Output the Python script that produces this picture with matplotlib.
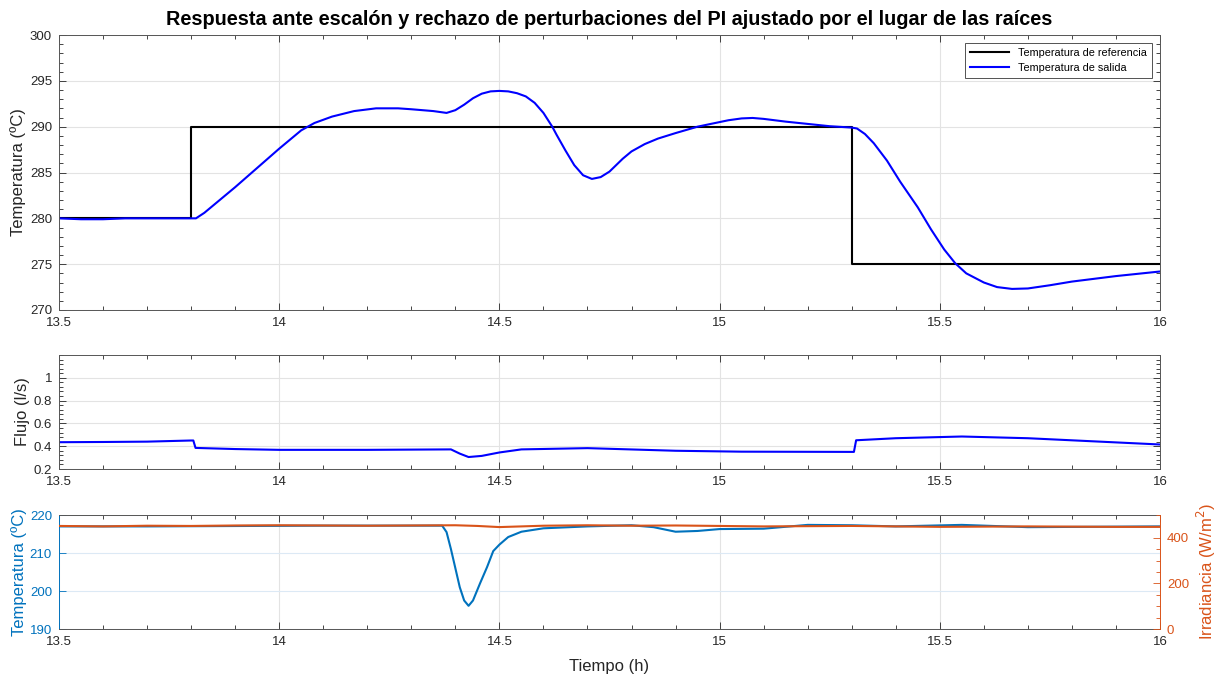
import matplotlib
matplotlib.use('Agg')
import matplotlib.pyplot as plt
from matplotlib.ticker import MultipleLocator

plt.rcParams['font.family'] = ['Liberation Sans', 'DejaVu Sans']

# Temperatura de referencia (escalones)
t_ref = [13.5, 13.8, 15.3, 16.0]
T_ref = [280, 290, 275, 275]

# Temperatura de salida
t_out = [13.5, 13.55, 13.6, 13.65, 13.7, 13.75, 13.8, 13.811, 13.83, 13.85, 13.9, 13.95,
         14.0, 14.03, 14.05, 14.08, 14.12, 14.17, 14.22, 14.27, 14.3, 14.35, 14.38, 14.4,
         14.42, 14.44, 14.46, 14.48, 14.5, 14.52, 14.54, 14.56, 14.58, 14.6, 14.62, 14.63,
         14.65, 14.67, 14.69, 14.71, 14.73, 14.75, 14.78, 14.8, 14.83, 14.86, 14.9, 14.95,
         15.0, 15.02, 15.05, 15.075, 15.1, 15.15, 15.2, 15.25, 15.3, 15.312, 15.33, 15.35,
         15.38, 15.41, 15.45, 15.48, 15.51, 15.535, 15.56, 15.6, 15.63, 15.664, 15.7, 15.75,
         15.8, 15.85, 15.9, 15.95, 16.0]
T_out = [280, 279.9, 279.9, 280, 280, 280, 280, 280, 280.6, 281.4, 283.4, 285.5,
         287.6, 288.8, 289.6, 290.4, 291.1, 291.7, 292.0, 292.0, 291.9, 291.7, 291.5, 291.8,
         292.4, 293.1, 293.6, 293.85, 293.9, 293.85, 293.65, 293.3, 292.6, 291.5, 290.0, 289.1,
         287.4, 285.8, 284.7, 284.3, 284.5, 285.1, 286.5, 287.3, 288.1, 288.7, 289.3, 290.0,
         290.5, 290.7, 290.9, 290.95, 290.85, 290.55, 290.3, 290.05, 289.9, 289.8, 289.2, 288.2,
         286.3, 284.0, 281.2, 278.8, 276.6, 275.1, 274.0, 273.0, 272.5, 272.3, 272.35, 272.7,
         273.1, 273.4, 273.7, 273.95, 274.2]

# Flujo
t_flow = [13.5, 13.6, 13.7, 13.8, 13.805, 13.81, 13.9, 14.0, 14.2, 14.39, 14.41, 14.43,
          14.46, 14.5, 14.55, 14.7, 14.9, 15.05, 15.3, 15.305, 15.31, 15.4, 15.55, 15.7, 16.0]
flow = [0.435, 0.437, 0.44, 0.45, 0.45, 0.385, 0.375, 0.368, 0.368, 0.372, 0.335, 0.305,
        0.315, 0.345, 0.372, 0.383, 0.36, 0.352, 0.35, 0.35, 0.452, 0.47, 0.485, 0.47, 0.415]

# Temperatura (eje izquierdo)
t_w = [13.5, 13.7, 13.9, 14.1, 14.3, 14.37, 14.38, 14.39, 14.40, 14.41, 14.42, 14.43,
       14.44, 14.456, 14.472, 14.486, 14.5, 14.52, 14.55, 14.6, 14.7, 14.8, 14.85, 14.9,
       14.95, 15.0, 15.1, 15.2, 15.3, 15.4, 15.55, 15.7, 16.0]
T_w = [217, 217, 217.1, 217.2, 217.2, 217.2, 215.5, 211, 206, 201, 197.5, 196.1,
       197.5, 202, 206.3, 210.5, 212.2, 214.2, 215.6, 216.5, 217.0, 217.3, 216.8, 215.6,
       215.8, 216.3, 216.4, 217.4, 217.3, 217.0, 217.4, 216.8, 217.0]

# Irradiancia (eje derecho)
t_irr = [13.5, 13.6, 13.7, 13.8, 13.9, 14.0, 14.1, 14.2, 14.3, 14.4, 14.45, 14.5, 14.55,
         14.6, 14.7, 14.8, 14.9, 15.0, 15.1, 15.2, 15.3, 15.4, 15.5, 15.6, 15.7, 15.8, 15.9, 16.0]
irr = [452, 450, 453, 452, 454, 455, 454, 453, 454, 455, 452, 447, 450,
       453, 455, 453, 454, 452, 450, 451, 452, 450, 448, 449, 450, 449, 448, 448]

xticks = [13.5, 14, 14.5, 15, 15.5, 16]
xticklabels = ['13.5', '14', '14.5', '15', '15.5', '16']

c_ax = '#262626'
c_blue = '#0072BD'
c_orange = '#D95319'


def estilo(ax):
    ax.set_xlim(13.5, 16)
    ax.set_xticks(xticks)
    ax.set_xticklabels(xticklabels)
    ax.xaxis.set_minor_locator(MultipleLocator(0.1))
    ax.tick_params(which='both', direction='in', top=True, right=True,
                   labelsize=9.5, colors=c_ax, width=0.6, pad=5)
    ax.tick_params(which='major', length=5)
    ax.tick_params(which='minor', length=3)
    ax.grid(True, which='major', color='#e3e3e3', lw=0.8)
    ax.set_axisbelow(True)
    for s in ax.spines.values():
        s.set_color('#555555')
        s.set_linewidth(0.7)


fig = plt.figure(figsize=(12.23, 6.77), dpi=100)

W, H = 1223, 677
def pos(x0, y0, x1, y1):
    return [x0 / W, 1 - y1 / H, (x1 - x0) / W, (y1 - y0) / H]

# --- Arriba
ax1 = fig.add_axes(pos(59, 35, 1160, 310))
estilo(ax1)
ax1.plot(t_ref, T_ref, drawstyle='steps-post', color='k', lw=1.5,
         label='Temperatura de referencia')
ax1.plot(t_out, T_out, color='#0000FF', lw=1.5, label='Temperatura de salida')
ax1.set_ylim(270, 300)
ax1.set_yticks([270, 275, 280, 285, 290, 295, 300])
ax1.yaxis.set_minor_locator(MultipleLocator(1))
ax1.set_ylabel('Temperatura (ºC)', fontsize=12, color=c_ax, labelpad=3)
ax1.set_title('Respuesta ante escalón y rechazo de perturbaciones del PI ajustado por el lugar de las raíces',
              fontsize=14.3, fontweight='bold', pad=7)
leg = ax1.legend(loc='upper right', fontsize=7.8, frameon=True, fancybox=False,
                 edgecolor='#262626', borderaxespad=0.7, handlelength=3.6,
                 labelspacing=0.45, borderpad=0.5)
leg.get_frame().set_linewidth(0.7)

# --- Medio
ax2 = fig.add_axes(pos(59, 355, 1160, 469))
estilo(ax2)
ax2.plot(t_flow, flow, color='#0000FF', lw=1.5)
ax2.set_ylim(0.2, 1.2)
ax2.set_yticks([0.2, 0.4, 0.6, 0.8, 1.0])
ax2.set_yticklabels(['0.2', '0.4', '0.6', '0.8', '1'])
ax2.yaxis.set_minor_locator(MultipleLocator(0.04))
ax2.set_ylabel('Flujo (l/s)', fontsize=12, color=c_ax, labelpad=3)

# --- Abajo
ax3 = fig.add_axes(pos(59, 515, 1160, 629))
estilo(ax3)
ax3.grid(False, axis='y')
ax3.grid(True, axis='y', which='major', color='#dce9f5', lw=0.8)
ax3.plot(t_w, T_w, color=c_blue, lw=1.5)
ax3.set_ylim(190, 220)
ax3.set_yticks([190, 200, 210, 220])
ax3.tick_params(axis='y', which='both', right=False, colors=c_blue, labelcolor=c_blue)
ax3.spines['left'].set_color(c_blue)
ax3.spines['right'].set_visible(False)
ax3.set_ylabel('Temperatura (ºC)', fontsize=12, color=c_blue, labelpad=2)
ax3.set_xlabel('Tiempo (h)', fontsize=12, color=c_ax, labelpad=8)

ax4 = ax3.twinx()
ax4.set_position(ax3.get_position())
ax4.plot(t_irr, irr, color=c_orange, lw=1.5)
ax4.set_ylim(0, 500)
ax4.set_yticks([0, 200, 400])
ax4.yaxis.set_minor_locator(MultipleLocator(50))
ax4.tick_params(axis='y', which='both', direction='in', colors=c_orange,
                labelcolor=c_orange, labelsize=9.5, width=0.6, pad=5)
ax4.tick_params(axis='y', which='major', length=5)
ax4.tick_params(axis='y', which='minor', length=3)
for k in ['top', 'bottom', 'left']:
    ax4.spines[k].set_visible(False)
ax4.spines['right'].set_color(c_orange)
ax4.spines['right'].set_linewidth(0.7)
ax4.set_ylabel('Irradiancia (W/m$^2$)', fontsize=12, color=c_orange, labelpad=4)

fig.savefig('out.png', dpi=100)
